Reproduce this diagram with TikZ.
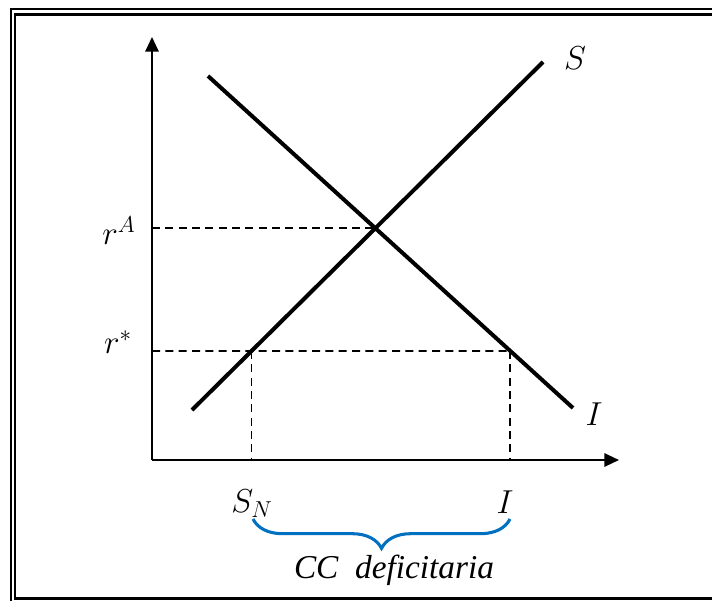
\documentclass[tikz,border=0pt]{standalone}
\usepackage{fontspec}
\newfontfamily\tnr{Liberation Serif}
\usetikzlibrary{arrows.meta,decorations.pathreplacing,calc}
\definecolor{braceblue}{RGB}{0,112,192}
\tikzset{
  axis/.style={line width=1.5pt,-{Triangle[length=11pt,width=10pt]}},
  curve/.style={line width=3pt},
  guide/.style={line width=1.4pt,dash pattern=on 6pt off 4pt},
  lbl/.style={inner sep=0pt,font=\fontsize{26}{30}\selectfont},
  frameline/.style={line width=2.2pt}
}
\begin{document}
\begin{tikzpicture}[x=0.75pt,y=-0.75pt]
\clip (0,0) rectangle (712,600);
\fill[white] (0,0) rectangle (712,600);
% frame
\draw[frameline] (11,9) rectangle (730,620);
\draw[frameline] (15,14.5) rectangle (725,598.5);
% axes
\coordinate (O) at (152,460);
\coordinate (ytop) at (152,37);
\coordinate (xend) at (619,460);
\draw[axis] (O) -- (ytop);
\draw[axis] (O) -- (xend);
% curves
\coordinate (S1) at (192,410);
\coordinate (S2) at (543,62);
\coordinate (I1) at (208,76);
\coordinate (I2) at (573,408);
\draw[curve] (S1) -- (S2);
\draw[curve] (I1) -- (I2);
% intersections
\coordinate (E) at (intersection of S1--S2 and I1--I2);
\coordinate (rA) at (O |- E);
\coordinate (L1) at (0,351);
\coordinate (L2) at (700,351);
\coordinate (SN) at (intersection of S1--S2 and L1--L2);
\coordinate (IN) at (intersection of I1--I2 and L1--L2);
\coordinate (rs) at (O |- SN);
\coordinate (SNb) at (O -| SN);
\coordinate (INb) at (O -| IN);
\draw[guide] (rA) -- (E);
\draw[guide] (rs) -- (IN);
\draw[guide] (SN) -- (SNb);
\draw[guide] (IN) -- (INb);
% labels
\node[lbl] (labA) at (119,231) {$r^{A}$};
\node[lbl] (labs) at (118,342) {$r^{*}$};
\node[lbl] (labS) at (575,58) {$S$};
\node[lbl] (labI) at (594,414) {$I$};
\node[lbl] (labSN) at (252,504) {$S_N$};
\node[lbl] (labIb) at (505,502) {$I$};
% brace
\coordinate (B1) at (253,519);
\coordinate (B2) at (510,519);
\draw[braceblue,line width=2.3pt,decorate,decoration={brace,amplitude=22pt,mirror}] (B1) -- (B2);
\node[lbl,font=\fontsize{25}{30}\selectfont\tnr\itshape] (cc) at (394,570) {CC\ \ deficitaria};
\end{tikzpicture}
\end{document}
